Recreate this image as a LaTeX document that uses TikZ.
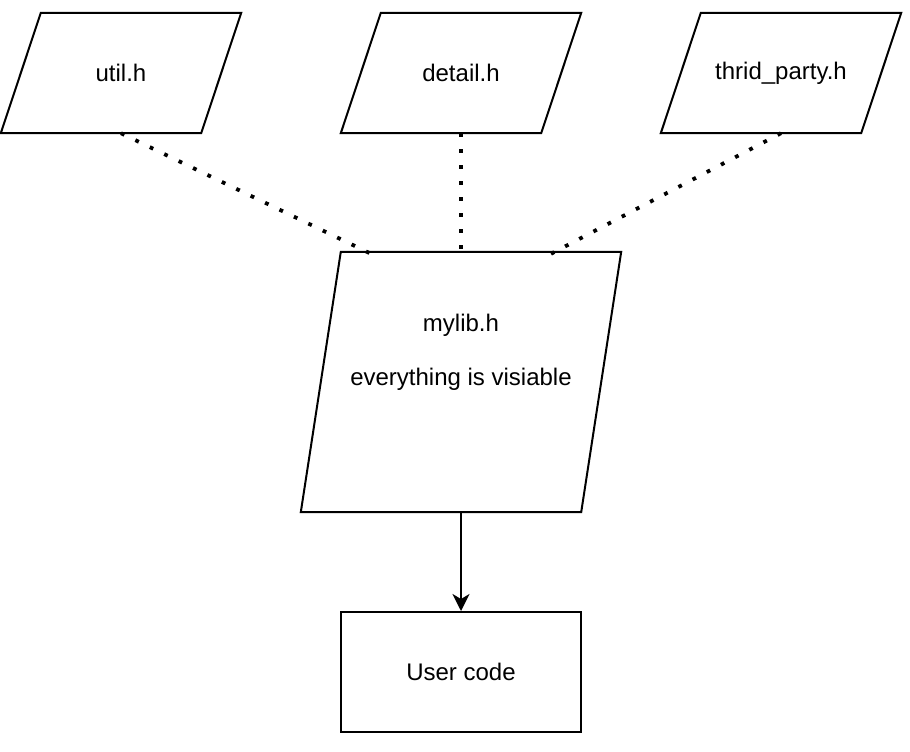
\documentclass[tikz,border=0pt]{standalone}
\usepackage{fontspec}
\setmainfont{Liberation Sans}
\usetikzlibrary{arrows.meta,calc}
\begin{document}
\begin{tikzpicture}[x=1pt,y=-1pt,
  box/.style={minimum width=240pt,minimum height=120pt,inner sep=0pt,font=\fontsize{24}{29}\selectfont},
  shapeline/.style={line width=2pt,line join=miter},
  dotline/.style={line width=3.8pt,dash pattern=on 3.8pt off 12.2pt},
  arrowline/.style={line width=2pt,-{Stealth[length=17pt,width=17pt,inset=5pt]}},
  txt/.style={anchor=base,inner sep=0pt,font=\fontsize{24}{29}\selectfont}]
\useasboundingbox (0,0) rectangle (910,752);
% header nodes
\node[box] (util) at (121,73) {util.h};
\node[box] (detail) at (461,73) {detail.h};
\node[box] (third) at (781,73) {thrid\_party.h};
\node[box,minimum width=320pt,minimum height=260pt] (mylib) at (461,382) {};
\node[txt] (mylibname) at (461,331) {mylib.h};
\node[txt] (mylibnote) at (461,385) {everything is visiable};
\node[box,draw,line width=2pt] (user) at (461,672) {User code};
% parallelograms
\foreach \n/\s in {util/40pt,detail/40pt,third/40pt,mylib/40pt}{
  \draw[shapeline] ($(\n.north west)+(\s,0)$) -- (\n.north east)
    -- ($(\n.south east)+(-\s,0)$) -- (\n.south west) -- cycle;
}
% connectors
\coordinate (mlL) at ($(mylib.north)+(-90pt,-2pt)$);
\coordinate (mlR) at ($(mylib.north)+(90pt,-2pt)$);
\coordinate (mlC) at ($(mylib.north)+(0,-2pt)$);
\draw[dotline] (util.south) -- (mlL);
\draw[dotline] (detail.south) -- (mlC);
\draw[dotline] (third.south) -- (mlR);
\draw[arrowline] (mylib.south) -- (user.north);
\end{tikzpicture}
\end{document}
